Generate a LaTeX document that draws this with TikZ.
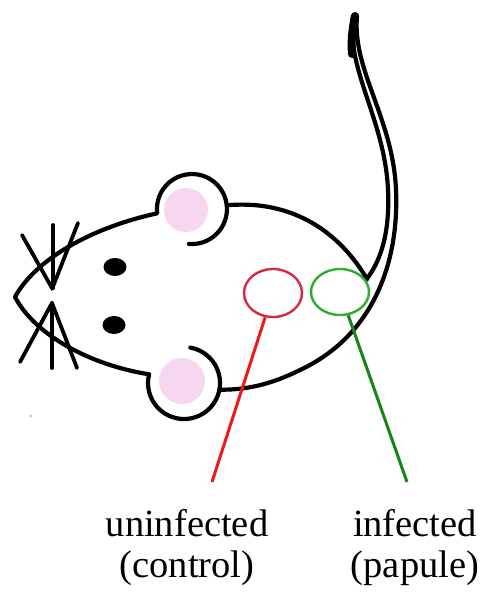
\documentclass[tikz,border=0pt]{standalone}
\usepackage{fontspec}
\setmainfont{Liberation Serif}
\usetikzlibrary{shapes.geometric}
\definecolor{earpink}{RGB}{247,214,240}
\definecolor{spotred}{RGB}{214,40,62}
\definecolor{leadred}{RGB}{240,24,24}
\definecolor{spotgreen}{RGB}{48,172,48}
\definecolor{leadgreen}{RGB}{22,132,22}
\begin{document}
\begin{tikzpicture}[x=1pt,y=1pt,yscale=-1,
  outline/.style={line width=4.2pt, line cap=round, line join=round},
  whisker/.style={line width=3.8pt, line cap=round},
  spot/.style={ellipse, draw, line width=2.4pt, inner sep=0pt},
  lead/.style={line width=3pt},
  caption/.style={font=\fontsize{38.5}{41}\selectfont, align=center, inner sep=0pt, anchor=north}]
\useasboundingbox (0,0) rectangle (481,599);

% inner ear discs
\fill[earpink] (186,210) circle[radius=22];
\fill[earpink] (182,381) circle[radius=23];

% upper ear, head and lower ear in one stroke
\draw[outline] (188.9,243.9) arc[start angle=95, end angle=-187, radius=35]
  .. controls (90,228) and (35,260) .. (15,297)
  .. controls (35,335) and (90,365) .. (149.1,374.3)
  arc[start angle=194, end angle=-80, radius=36];

% back of the body
\draw[outline] (226.8,205.3) .. controls (285,200) and (335,225) .. (367,279);

% belly line running into the outer edge of the tail
\draw[outline] (219.4,389.7) .. controls (245,390) and (270,385) .. (300,370)
  .. controls (375,335) and (399,260) .. (396,190)
  .. controls (393,118) and (352,70) .. (357,16);

% inner edge of the tail
\draw[outline] (366,280) .. controls (380,262) and (390,235) .. (388,190)
  .. controls (385,120) and (346,70) .. (353,16);

% tail tip
\draw[line width=8pt, line cap=round] (355,16) .. controls (352,30) and (351,42) .. (352,54);

% whiskers
\draw[whisker] (22,235) -- (52,288);
\draw[whisker] (53,225) -- (53,288);
\draw[whisker] (78,223) -- (52,289);
\draw[whisker] (52,303) -- (20,362);
\draw[whisker] (52,303) -- (52,368);
\draw[whisker] (52,303) -- (77,368);

% eyes
\fill (115,267) ellipse[x radius=11.5, y radius=9];
\fill (114,325) ellipse[x radius=11.5, y radius=9];

% stray speck
\fill[gray!60] (31,416) circle[radius=1.3];

% sampled skin areas
\node[spot, draw=spotred, minimum width=58pt, minimum height=48pt] (redspot) at (273,293) {};
\node[spot, draw=spotgreen, minimum width=58pt, minimum height=46pt] (greenspot) at (340,292) {};

% leader lines
\coordinate (redend) at (212,482);
\coordinate (greenend) at (407,482);
\draw[lead, leadred] (redspot) -- (redend);
\draw[lead, leadgreen] (greenspot) -- (greenend);

% captions
\node[caption] (ctrl) at (187,509) {uninfected\\(control)};
\node[caption] (pap) at (415,509) {infected\\(papule)};
\end{tikzpicture}
\end{document}
